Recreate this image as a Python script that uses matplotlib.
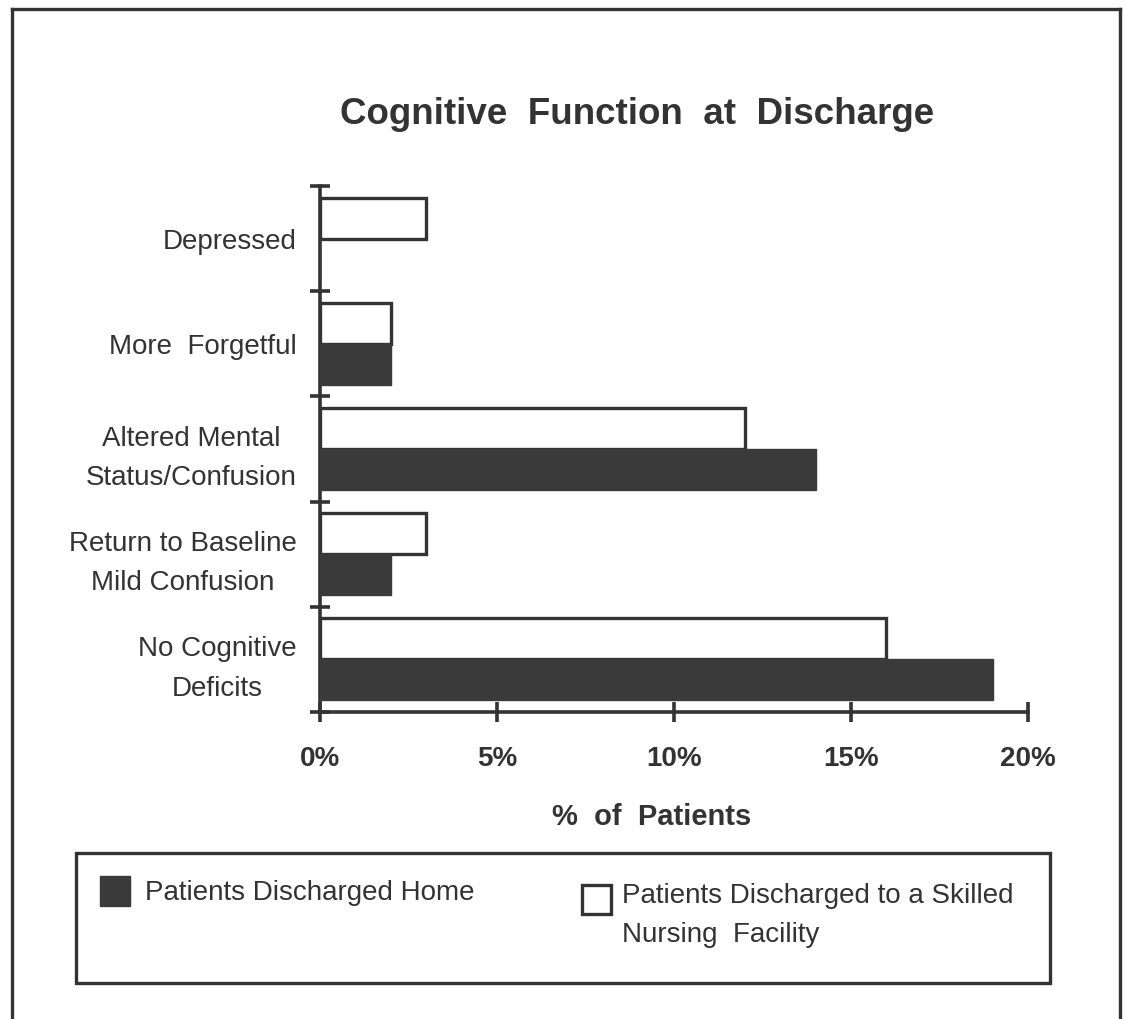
import matplotlib
matplotlib.use("Agg")
import matplotlib.pyplot as plt
from matplotlib.patches import Rectangle
from matplotlib.lines import Line2D
import numpy as np

# ---------------- data ----------------
categories = ["Depressed", "More  Forgetful", "Altered Mental\nStatus/Confusion",
              "Return to Baseline\nMild Confusion", "No Cognitive\nDeficits"]
home = [0, 2, 14, 2, 19]      # Patients Discharged Home (%)
snf = [3, 2, 12, 3, 16]       # Patients Discharged to a Skilled Nursing Facility (%)
xticks = [0, 5, 10, 15, 20]
xticklabels = ["0%", "5%", "10%", "15%", "20%"]
series_labels = ["Patients Discharged Home",
                 "Patients Discharged to a Skilled\nNursing  Facility"]
title = "Cognitive  Function  at  Discharge"
xlabel = "%  of  Patients"

# ---------------- style ----------------
plt.rcParams['font.family'] = ['Liberation Sans', 'DejaVu Sans']
INK = "#333333"
DARK = "#3a3a3a"
W, H = 1125, 1019

fig = plt.figure(figsize=(W / 100, H / 100), dpi=100)
fig.patch.set_facecolor("white")


def fx(px):
    return px / W


def fy(py):
    return 1 - py / H


ax = fig.add_axes([fx(320), fy(712), fx(1028) - fx(320), fy(186) - fy(712)])

n = len(categories)
ypos = np.arange(n)[::-1]
bh = 0.39
ax.barh(ypos + bh / 2, snf, height=bh, color="white", edgecolor=INK, linewidth=2.4, zorder=3)
ax.barh(ypos - bh / 2, home, height=bh, color=DARK, edgecolor=DARK, linewidth=1.0, zorder=3)

ax.set_xlim(0, 20)
ax.set_ylim(-0.5, n - 0.5)

for s in ["top", "right"]:
    ax.spines[s].set_visible(False)
for s in ["left", "bottom"]:
    ax.spines[s].set_linewidth(2.6)
    ax.spines[s].set_color(INK)

# category boundaries as major y ticks (no labels)
ax.set_yticks(np.arange(-0.5, n, 1.0))
ax.set_yticklabels([])
ax.tick_params(axis="y", which="major", direction="inout", length=14, width=2.6, color=INK)
# category names at centres as minor ticks
ax.set_yticks(ypos, labels=categories, minor=True)
ax.tick_params(axis="y", which="minor", length=0, pad=17, labelsize=20, labelcolor=INK)
for lbl in ax.get_yticklabels(minor=True):
    lbl.set_multialignment("center")
    lbl.set_linespacing(1.66)

ax.set_xticks(xticks, labels=xticklabels)
ax.tick_params(axis="x", which="major", direction="inout", length=15, width=2.6, color=INK,
               pad=17, labelsize=20, labelcolor=INK)
for lbl in ax.get_xticklabels():
    lbl.set_fontweight("bold")

ax.set_xlabel(xlabel, fontsize=21, fontweight="bold", color=INK, va="top")
ax.xaxis.set_label_coords((652 - 320) / 708, -(803 - 712) / 526)

fig.text(fx(637), fy(115), title, ha="center", va="center", fontsize=26.5,
         fontweight="bold", color=INK)

# outer border (no bottom edge)
lw_b = 2.4
fig.add_artist(Line2D([fx(12), fx(12)], [fy(9), 0], color=INK, lw=lw_b))
fig.add_artist(Line2D([fx(12), fx(1120)], [fy(9), fy(9)], color=INK, lw=lw_b))
fig.add_artist(Line2D([fx(1120), fx(1120)], [fy(9), 0], color=INK, lw=lw_b))

# legend box
fig.add_artist(Rectangle((fx(76), fy(983)), fx(1050) - fx(76), fy(853) - fy(983),
                         transform=fig.transFigure, facecolor="none", edgecolor=INK, lw=2.4))
# legend entries
fig.add_artist(Rectangle((fx(100), fy(906)), fx(130) - fx(100), fy(876) - fy(906),
                         transform=fig.transFigure, facecolor=DARK, edgecolor=DARK, lw=1))
fig.text(fx(145), fy(893), series_labels[0], ha="left", va="center", fontsize=20, color=INK)
fig.add_artist(Rectangle((fx(582), fy(914)), fx(611) - fx(582), fy(885) - fy(914),
                         transform=fig.transFigure, facecolor="white", edgecolor=INK, lw=2.4))
fig.text(fx(622), fy(883), series_labels[1], ha="left", va="top", fontsize=20, color=INK,
         linespacing=1.66)

fig.savefig("out.png", dpi=100, facecolor="white")
